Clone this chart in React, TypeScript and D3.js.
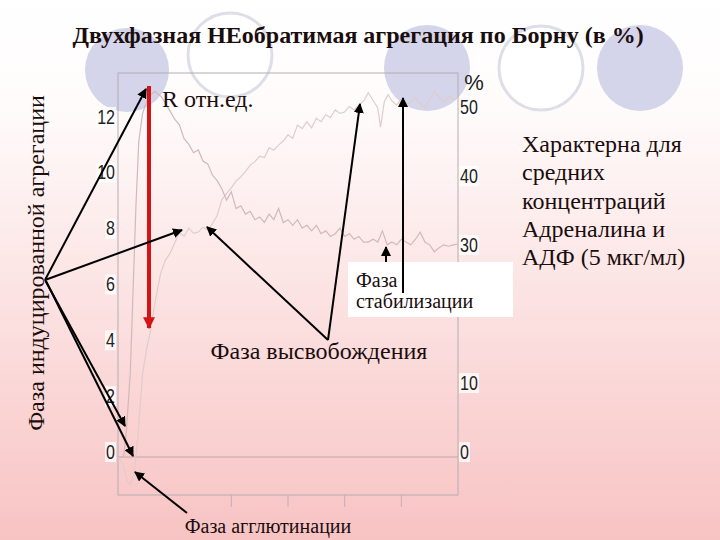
import React from 'react';
import * as d3 from 'd3';

// R (отн.ед.) curve, left axis
const rTimes = [0, 6, 9, 13, 16, 19, 22, 26, 32, 39, 46, 55,
  60, 65, 70, 75, 80, 85, 90, 95, 100, 105, 110, 115,
  120, 125, 130, 135, 140, 145, 150, 155, 160, 165, 170, 175,
  180, 185, 190, 195, 200, 205, 210, 215, 220, 225, 230, 235,
  240, 245, 250, 255, 260, 265, 270, 275, 280, 285, 290, 295,
  300, 305, 310, 315, 320, 325, 330, 335, 340, 345, 350, 355, 360];
const rValues = [0, 0, 1, 3, 6, 9, 11.3, 12.3, 12.9, 13.1, 12.9, 12.4,
  12.1, 11.9, 11.4, 11.2, 10.9, 11.0, 10.6, 10.5, 10.1, 9.9, 9.6, 9.2,
  9.5, 8.9, 9.0, 8.7, 8.8, 8.5, 8.6, 8.4, 8.7, 8.5, 8.9, 8.4,
  8.5, 8.3, 8.5, 8.2, 8.3, 8.1, 8.3, 8.0, 8.1, 7.9, 8.0, 8.2,
  7.9, 8.0, 7.8, 7.9, 7.7, 7.7, 7.8, 7.7, 8.1, 7.6, 7.7, 7.6,
  7.8, 7.7, 7.6, 7.8, 8.05, 7.7, 7.6, 7.35, 7.5, 7.6, 7.55, 7.6, 7.63];

// aggregation % curve, right axis
const pTimes = [0, 5, 10, 13, 17, 21, 26, 30, 34, 40, 45, 50, 55, 60, 65, 70, 75, 80, 85, 90, 95,
  100, 105, 110, 115, 120, 125, 130, 135, 140, 145, 150, 155, 160, 165, 170, 175,
  180, 185, 190, 195, 200, 205, 210, 215, 220, 225, 230, 235, 240, 245, 250, 255,
  260, 265, 270, 275, 278, 282, 286, 290, 295, 300, 305, 310, 315, 320, 325, 330,
  335, 340, 345, 350, 355, 360];
const pValues = [0, -1, -3.5, -4, -2.5, 3, 12, 15.5, 18, 23, 26.5, 28.5, 29.5, 31, 32.5, 32, 33.2, 32.4, 32.6, 33.3, 32.9,
  33.8, 35, 37.3, 38.2, 39, 40, 40.6, 41.4, 42.3, 42.8, 43.6, 43.4, 44.8, 44.5, 45.2, 45.8,
  46.7, 46.2, 48.1, 47.6, 48.6, 47.7, 49.1, 48.6, 49.6, 49.2, 50.3, 49.8, 50.0, 50.8, 50.3, 51.0,
  51.6, 52.8, 51.7, 50.6, 47.8, 51.5, 52.5, 51.6, 51.0, 51.9, 51.2, 51.4, 52.1, 51.2, 50.6, 51.8,
  52.9, 52.2, 51.4, 52.3, 51.8, 52];

const leftTicks = [0, 2, 4, 6, 8, 10, 12];
const rightTicks = [0, 10, 20, 30, 40, 50];
const timeTicks = [120, 180, 240, 300];

const title = 'Двухфазная НЕобратимая агрегация по Борну (в %)';
const sideLines = ['Характерна для', 'средних', 'концентраций', 'Адреналина и', 'АДФ (5 мкг/мл)'];

const serif = 'Liberation Serif, DejaVu Serif, serif';
const sans = 'Liberation Sans, Arial, sans-serif';
const ink = '#1a0d0d';

export default function App() {
  const frame = { left: 118, right: 458, top: 73, bottom: 495 };
  const box = { x: 348, y: 262, w: 165, h: 55 };
  const x = d3.scaleLinear().domain([0, 360]).range([frame.left, frame.right]);
  const yL = d3.scaleLinear().domain([0, 12]).range([457, 122]);
  const yR = d3.scaleLinear().domain([0, 50]).range([457, 112]);

  const rLine = d3.line<number>().x((_, i) => x(rTimes[i])).y(d => yL(d));
  const pLine = d3.line<number>().x((_, i) => x(pTimes[i])).y(d => yR(d));

  // right labels covered by the white "стабилизации" box are not shown
  const visibleRight = rightTicks.filter(v => yR(v) - 5 < box.y || yR(v) - 5 > box.y + box.h);

  const arrows = [
    [45, 280, 146, 89],
    [45, 280, 182, 230],
    [45, 280, 125, 426],
    [46, 281, 133, 456],
    [328, 340, 207, 227],
    [328, 340, 360, 104],
    [386, 262, 386, 247],
    [403, 293, 403, 98],
    [187, 513, 135, 472],
  ];

  return (
    <svg width={720} height={540} style={{ position: 'absolute', left: 0, top: 0 }}>
      <defs>
        <linearGradient id="bg" x1="0" y1="0" x2="0" y2="1">
          <stop offset="0" stopColor="#ffffff" />
          <stop offset="0.2" stopColor="#fffbfb" />
          <stop offset="1" stopColor="#f8c3c3" />
        </linearGradient>
        <marker id="ah" viewBox="0 0 10 10" refX="9" refY="5" markerWidth="5" markerHeight="5" orient="auto">
          <path d="M0,0L10,5L0,10z" fill="#000" />
        </marker>
        <marker id="ahr" viewBox="0 0 10 10" refX="9" refY="5" markerWidth="3" markerHeight="3" orient="auto">
          <path d="M0,0L10,5L0,10z" fill="#d41414" />
        </marker>
      </defs>
      <rect width={720} height={540} fill="url(#bg)" />

      {/* decorative circles */}
      <circle cx={127} cy={70} r={42} fill="#d4d4ea" />
      <circle cx={230} cy={55} r={42} fill="#ffffff" stroke="#dedee8" strokeWidth={3} />
      <circle cx={427} cy={68} r={43} fill="#d4d4ea" />
      <circle cx={541} cy={68} r={42} fill="#ffffff" stroke="#dedee8" strokeWidth={3} />
      <circle cx={640} cy={68} r={43} fill="#d4d4ea" />

      <text x={358} y={43} textAnchor="middle" fontFamily={serif} fontWeight="bold" fontSize={24} fill={ink}>{title}</text>

      {/* frame and axes */}
      <rect x={frame.left} y={frame.top} width={frame.right - frame.left} height={frame.bottom - frame.top}
        fill="none" stroke="#b4aeb4" strokeWidth={1} />
      <line x1={frame.left} x2={frame.right} y1={yL(0)} y2={yL(0)} stroke="#c0a8ac" strokeWidth={1} />
      {timeTicks.map(t => (
        <line key={t} x1={x(t)} x2={x(t)} y1={frame.bottom} y2={frame.bottom + 12} stroke="#c0b0b4" strokeWidth={1} />
      ))}
      {leftTicks.map(v => {
        const w = String(v).length * 9 + 2;
        return (
          <g key={v}>
            <rect x={116 - w} y={yL(v) - 15} width={w} height={20} fill="#fff" opacity={0.75} />
            <text transform={`translate(115,${yL(v) - 5}) scale(0.8,1)`} textAnchor="end" dominantBaseline="central"
              fontFamily={sans} fontSize={20} fill="#222">{v}</text>
          </g>
        );
      })}
      {visibleRight.map(v => {
        const w = String(v).length * 9 + 2;
        return (
          <g key={v}>
            <rect x={459} y={yR(v) - 15} width={w} height={20} fill="#fff" opacity={0.75} />
            <text transform={`translate(460,${yR(v) - 5}) scale(0.8,1)`} dominantBaseline="central"
              fontFamily={sans} fontSize={20} fill="#222">{v}</text>
          </g>
        );
      })}
      <text x={474} y={90} textAnchor="middle" fontFamily={sans} fontSize={22} fill="#222">%</text>

      {/* curves */}
      <path d={pLine(pValues) || ''} fill="none" stroke="#e0cccd" strokeWidth={1.2} />
      <path d={rLine(rValues) || ''} fill="none" stroke="#d2b8ba" strokeWidth={1.2} />

      <text x={162} y={107} fontFamily={serif} fontSize={24} fill={ink}>R отн.ед.</text>

      {/* stabilisation box */}
      <rect x={box.x} y={box.y} width={box.w} height={box.h} fill="#ffffff" />
      <text x={356} y={287} fontFamily={serif} fontSize={20} fill={ink}>Фаза</text>
      <text x={356} y={308} fontFamily={serif} fontSize={20} fill={ink}>стабилизации</text>

      {/* red arrow */}
      <line x1={149} x2={149} y1={86} y2={328} stroke="#d41414" strokeWidth={4} markerEnd="url(#ahr)" />

      {arrows.map(([x1, y1, x2, y2], i) => (
        <line key={i} x1={x1} y1={y1} x2={x2} y2={y2} stroke="#000" strokeWidth={2} markerEnd="url(#ah)" />
      ))}

      <text x={319} y={359} textAnchor="middle" fontFamily={serif} fontSize={24} fill={ink}>Фаза высвобождения</text>
      <text x={268} y={533} textAnchor="middle" fontFamily={serif} fontSize={20} fill={ink}>Фаза агглютинации</text>
      <text transform="translate(44,263) rotate(-90)" textAnchor="middle" fontFamily={serif} fontSize={24} fill={ink}>
        Фаза индуцированной агрегации
      </text>

      {sideLines.map((s, i) => (
        <text key={s} x={522} y={152 + i * 28.3} fontFamily={serif} fontSize={24} fill={ink}>{s}</text>
      ))}
    </svg>
  );
}
